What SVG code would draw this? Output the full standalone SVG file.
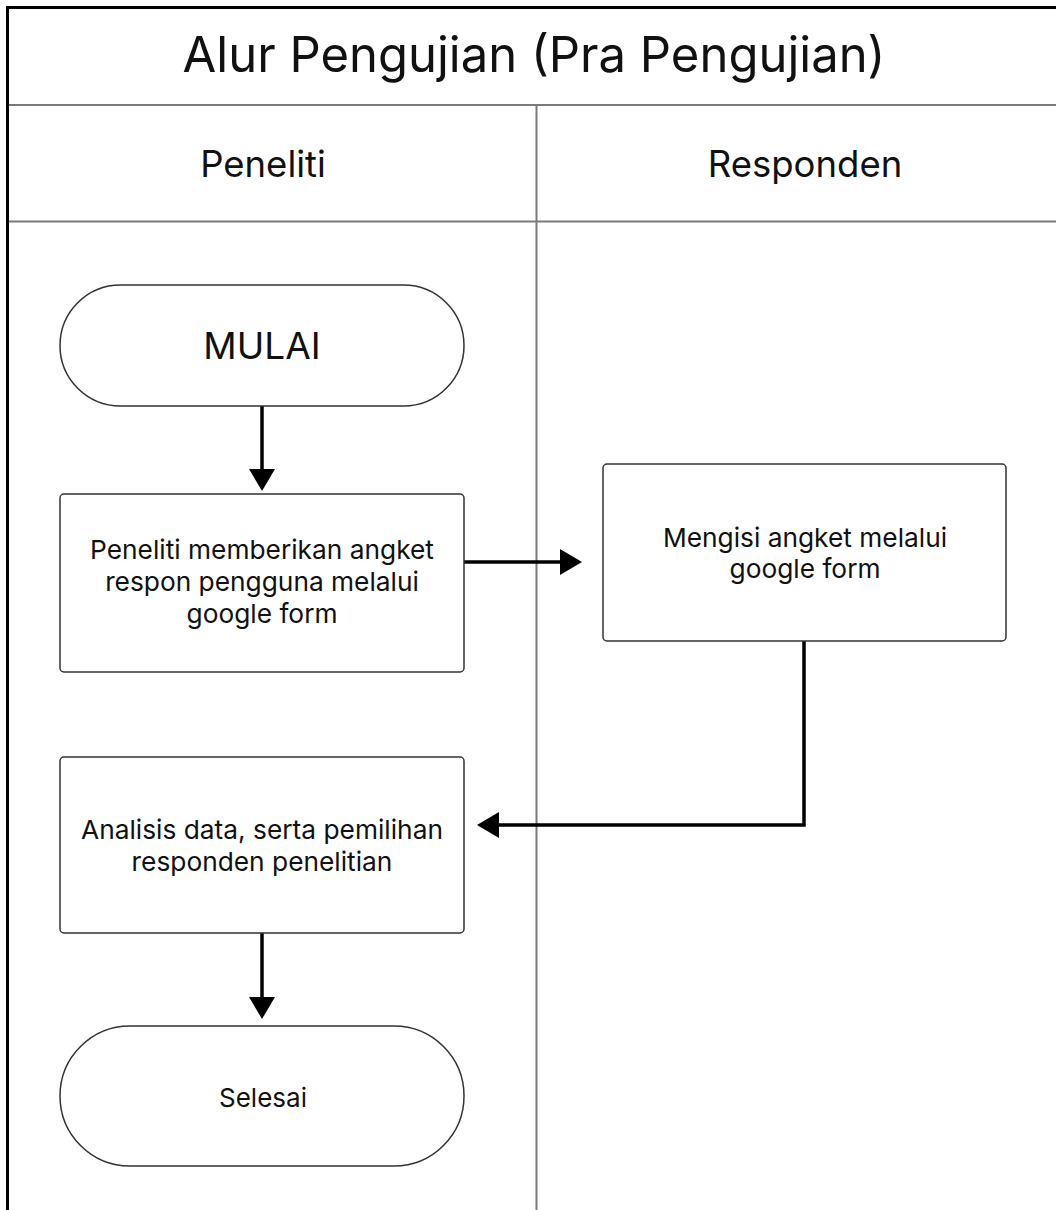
<svg xmlns="http://www.w3.org/2000/svg" width="1056" height="1210" viewBox="0 0 1056 1210">
<defs>
<style>
.lane{stroke:#7a7a7a;stroke-width:2;fill:none}
.node{fill:#fff;stroke:#333;stroke-width:1.5}
.t{font-family:Inter,"Noto Sans","Liberation Sans",sans-serif;fill:#111;text-anchor:middle}
.conn{stroke:#000;stroke-width:3.5;fill:none}
</style>
<marker id="ah" markerUnits="userSpaceOnUse" markerWidth="22" markerHeight="26" refX="12" refY="13" orient="auto" viewBox="0 0 22 26">
<path d="M0,0 L22,13 L0,26 Z" fill="#000"/>
</marker>
</defs>
<rect width="1056" height="1210" fill="#fff"/>
<g id="frame">
<rect x="7.5" y="7.5" width="1100" height="1300" fill="none" stroke="#000" stroke-width="3"/>
<line class="lane" x1="9" y1="105" x2="1056" y2="105"/>
<line class="lane" x1="9" y1="221.5" x2="1056" y2="221.5"/>
<line class="lane" x1="536.5" y1="105" x2="536.5" y2="1210"/>
<text class="t" x="534" y="72" font-size="49">Alur Pengujian (Pra Pengujian)</text>
<text class="t" x="263" y="177" font-size="36.5">Peneliti</text>
<text class="t" x="805" y="177" font-size="36.5">Responden</text>
</g>
<g id="connectors">
<path class="conn" d="M262,406 V481" marker-end="url(#ah)"/>
<path class="conn" d="M464,562 H572" marker-end="url(#ah)"/>
<path class="conn" d="M804,641 V825 H487" marker-end="url(#ah)"/>
<path class="conn" d="M262,933 V1009" marker-end="url(#ah)"/>
</g>
<g id="mulai">
<rect class="node" x="60" y="285" width="404" height="121" rx="60.5"/>
<text class="t" x="262" y="359" font-size="37">MULAI</text>
</g>
<g id="beri-angket">
<rect class="node" x="60" y="494" width="404" height="178" rx="4"/>
<text class="t" x="262" y="559" font-size="26.3">Peneliti memberikan angket</text>
<text class="t" x="262" y="591" font-size="26.3">respon pengguna melalui</text>
<text class="t" x="262" y="623" font-size="26.3">google form</text>
</g>
<g id="mengisi">
<rect class="node" x="603" y="464" width="403" height="177" rx="4"/>
<text class="t" x="805" y="547" font-size="26.3">Mengisi angket melalui</text>
<text class="t" x="805" y="578" font-size="26.3">google form</text>
</g>
<g id="analisis">
<rect class="node" x="60" y="757" width="404" height="176" rx="4"/>
<text class="t" x="262" y="839" font-size="26.3">Analisis data, serta pemilihan</text>
<text class="t" x="262" y="871" font-size="26.3">responden penelitian</text>
</g>
<g id="selesai">
<rect class="node" x="60" y="1026" width="404" height="140" rx="70"/>
<text class="t" x="263" y="1107" font-size="26">Selesai</text>
</g>
</svg>
